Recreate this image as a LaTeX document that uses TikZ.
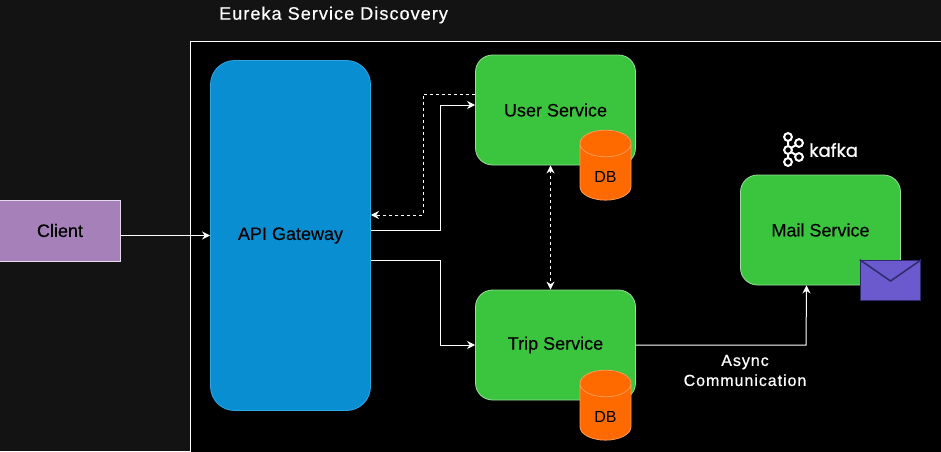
\documentclass[tikz,border=0pt]{standalone}
\usepackage{fontspec}
\setmainfont{Liberation Sans}
\newfontfamily\kafkafont[FakeBold=0.8]{Poppins}
\newfontfamily\captionfont[LetterSpace=6,FakeBold=0.6]{Liberation Sans}
\newfontfamily\boxfont[FakeBold=0.3]{Liberation Sans}
\usepackage{tikz}
\usetikzlibrary{arrows.meta,shapes.geometric}
\definecolor{pagegray}{HTML}{131313}
\definecolor{servicegreen}{HTML}{3BC43D}
\definecolor{servicerim}{HTML}{9ADF9B}
\definecolor{gatewayblue}{HTML}{0A8ED2}
\definecolor{gatewayrim}{HTML}{2EA6E6}
\definecolor{clientpurple}{HTML}{A680B8}
\definecolor{dborange}{HTML}{FF6A00}
\definecolor{dbrim}{HTML}{FF9A55}
\definecolor{mailblue}{HTML}{6A5ACD}
\definecolor{mailrim}{HTML}{2F2A6B}
\tikzset{
  service/.style = {draw=servicerim, fill=servicegreen, rounded corners=17, minimum width=160, minimum height=110, font=\fontsize{18}{21}\boxfont, text=black, line width=0.8},
  dbcan/.style = {shape=cylinder, shape border rotate=90, aspect=1.2, draw=dbrim, fill=dborange, minimum width=51, minimum height=70, inner sep=0, font=\fontsize{16}{19}\selectfont, text=black, line width=0.8},
  link/.style = {white, line width=1, -{Stealth[length=8,width=8]}},
  dashlink/.style = {link, dash pattern=on 3 off 3},
  caption/.style = {white, font=\fontsize{16}{20}\captionfont, align=center},
}
\begin{document}
\begin{tikzpicture}[x=1pt, y=-1pt]
\useasboundingbox (0,0) rectangle (941,451);
\fill [pagegray] (0,0) rectangle (941,451);
\draw [white, fill=black, line width=0.8] (190.5,41) rectangle (945,455);
\node [caption, font=\fontsize{18}{20}\captionfont, anchor=west, inner sep=0] (title) at (219,15) {Eureka Service Discovery};
% boxes
\node [draw=white!70!clientpurple, fill=clientpurple, minimum width=121, minimum height=61, font=\fontsize{18}{21}\boxfont, text=black, line width=0.8] (client) at (60,230.5) {Client};
\node [draw=gatewayrim, fill=gatewayblue, rounded corners=24, minimum width=160, minimum height=350, font=\fontsize{18}{21}\boxfont, text=black, line width=0.8] (gateway) at (290.5,235.5) {API Gateway};
\node [service] (user) at (555.5,110) {User Service};
\node [service] (trip) at (555.5,345) {Trip Service};
\node [service] (mail) at (820.5,230) {Mail Service};
\node [dbcan] (userdb) at (605.5,172) {\raisebox{-20pt}{DB}};
\node [dbcan] (tripdb) at (605.5,412) {\raisebox{-20pt}{DB}};
% envelope
\node [draw=mailrim, fill=mailblue, minimum width=60, minimum height=40, line width=1.5] (envelope) at (890.5,280.5) {};
\draw [mailrim, line width=1.5] (envelope.north west) -- (890.5,281) -- (envelope.north east);
% kafka logo
\draw [white, line width=2] (788,137) -- (788,162) (788,150) -- (799,143) (788,150) -- (799,157);
\foreach \cx/\cy in {788/137, 788/162, 799/143, 799/157, 788/150}
  \draw [white, fill=black, line width=2] (\cx,\cy) circle (3.9);
\node [white, anchor=west, inner sep=0, font=\fontsize{18}{20}\kafkafont] (kafka) at (809,150) {kafka};
% connectors
\draw [link] ([yshift=-5]client.east) -- (gateway.west);
\draw [link] ([yshift=5.5]gateway.east) -- (440,230) -- (440,105) -- ([yshift=5]user.west);
\draw [dashlink] ([yshift=16]user.west) -- (423,94) -- (423,215) -- ([yshift=20.5]gateway.east);
\draw [link] ([yshift=-24.5]gateway.east) -- (440,260) -- (440,345) -- (trip.west);
\draw [dashlink, {Stealth[length=8,width=8]}-{Stealth[length=8,width=8]}] ([xshift=-5]user.south) -- ([xshift=-5]trip.north);
\draw [link] (trip.east) -- (806,345) -- ([xshift=-14]mail.south);
\node [caption] (async) at (745,370.5) {Async\\Communication};
\end{tikzpicture}
\end{document}
